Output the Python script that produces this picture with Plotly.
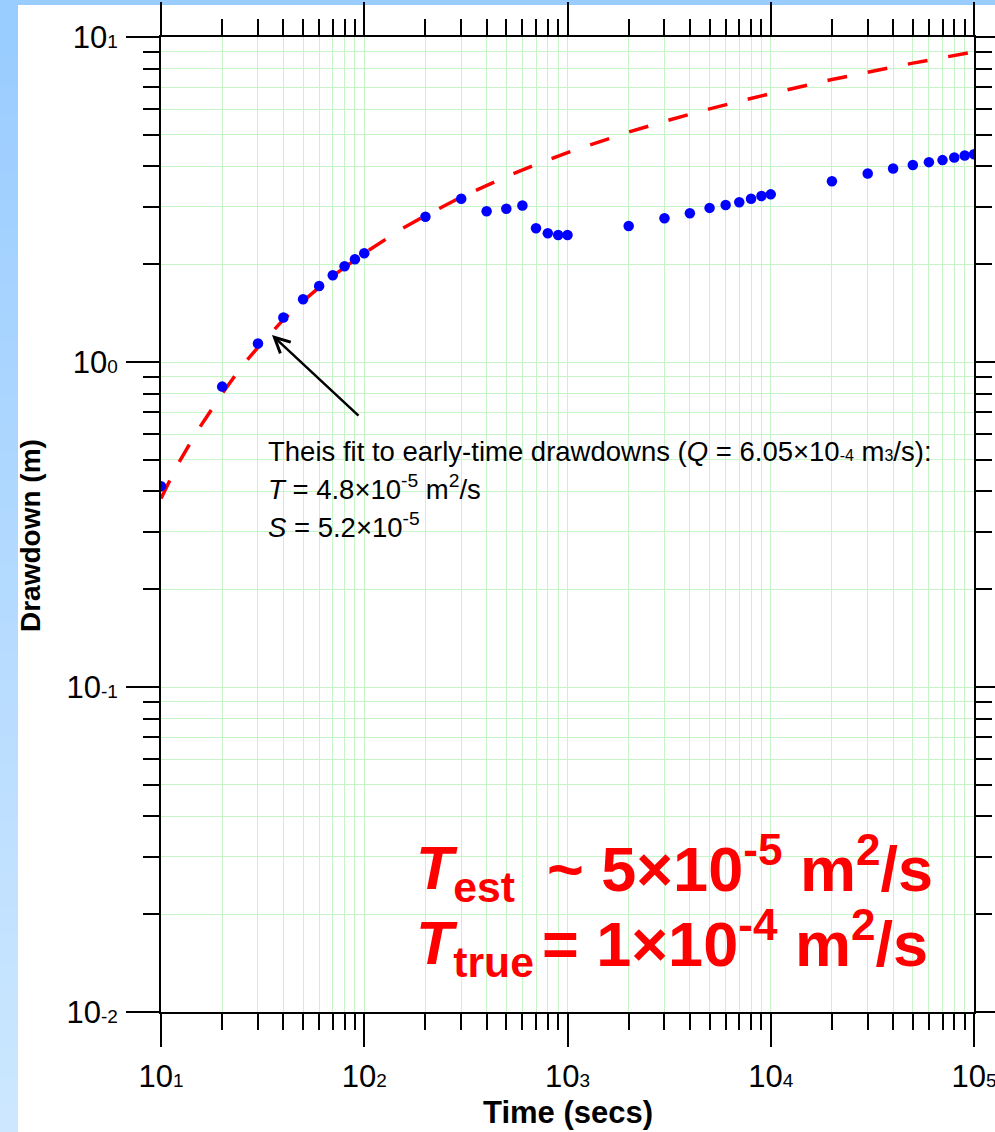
import plotly.graph_objects as go

# ---------------- data ----------------
time_obs = [10, 20, 30, 40, 50, 60, 70, 80, 90, 100,
            200, 300, 400, 500, 600, 700, 800, 900, 1000,
            2000, 3000, 4000, 5000, 6000, 7000, 8000, 9000, 10000,
            20000, 30000, 40000, 50000, 60000, 70000, 80000, 90000, 100000]
drawdown_obs = [0.415, 0.84, 1.14, 1.37, 1.56, 1.713, 1.85, 1.97, 2.07, 2.16,
                2.80, 3.18, 2.91, 2.96, 3.03, 2.58, 2.49, 2.46, 2.46,
                2.62, 2.77, 2.87, 2.98, 3.04, 3.10, 3.18, 3.24, 3.28,
                3.60, 3.80, 3.94, 4.04, 4.12, 4.18, 4.26, 4.32, 4.36]

time_fit = [10, 12, 15, 20, 25, 30, 40, 50, 70, 100, 150, 200, 300, 500, 700,
            1000, 2000, 3000, 5000, 10000, 20000, 50000, 100000]
drawdown_fit = [0.38, 0.48, 0.61, 0.80, 0.97, 1.11, 1.35, 1.54, 1.84, 2.16, 2.55,
                2.82, 3.22, 3.72, 4.05, 4.41, 5.10, 5.50, 6.01, 6.70, 7.40, 8.31, 9.00]

x_major = [10, 100, 1000, 10000, 100000]
x_major_exp = ["1", "2", "3", "4", "5"]
y_major = [0.01, 0.1, 1, 10]
y_major_exp = ["-2", "-1", "0", "1"]

# ---------------- layout geometry ----------------
W, H = 995, 1132
L, R, T, B = 161, 21, 37, 120
PW, PH = W - L - R, H - T - B

def xp(px):
    return (px - L) / PW

def yp(py):
    return (H - B - py) / PH

FONT = "Arial, 'Liberation Sans', sans-serif"

def minor_vals(lo_exp, hi_exp):
    v = []
    for e in range(lo_exp, hi_exp):
        for m in range(2, 10):
            v.append(m * 10 ** e)
    return v

def lbl(exp, size):
    return "10<span style='font-size:%dpx'>%s</span>" % (size, exp)

fig = go.Figure()

fig.add_trace(go.Scatter(
    x=time_fit, y=drawdown_fit, mode="lines",
    line=dict(color="#FF0000", width=3.5, dash="20px,21px"),
    hoverinfo="skip", showlegend=False))

fig.add_trace(go.Scatter(
    x=time_obs, y=drawdown_obs, mode="markers",
    marker=dict(color="#0000FF", size=10.5, line=dict(width=0)),
    showlegend=False))

grid_col = "#C6F5C6"
axis_common = dict(
    type="log", showline=True, linecolor="black", linewidth=2, mirror="ticks",
    ticks="outside", ticklen=33, tickwidth=2, tickcolor="black",
    showgrid=True, gridcolor=grid_col, gridwidth=1, zeroline=False,
    automargin=False, ticklabeloverflow="allow",
    tickfont=dict(family=FONT, size=31, color="black"),
)

fig.update_xaxes(
    **axis_common, range=[1, 5], tickmode="array", tickvals=x_major,
    ticktext=[lbl(e, 19) for e in x_major_exp], ticklabelstandoff=3,
    minor=dict(tickmode="array", tickvals=minor_vals(1, 5), ticks="outside",
               ticklen=16, tickwidth=2, tickcolor="black",
               showgrid=True, gridcolor=grid_col, gridwidth=1))
fig.update_yaxes(
    **axis_common, range=[-2, 1], tickmode="array", tickvals=y_major,
    ticktext=[lbl(e, 19) for e in y_major_exp], ticklabelstandoff=2,
    minor=dict(tickmode="array", tickvals=minor_vals(-2, 1), ticks="outside",
               ticklen=16, tickwidth=2, tickcolor="black",
               showgrid=True, gridcolor=grid_col, gridwidth=1))

shapes = []
# top blue strip
shapes.append(dict(type="rect", xref="paper", yref="paper", x0=xp(0), x1=xp(W),
                   y0=yp(5), y1=yp(0), fillcolor="#99CCFF", line=dict(width=0),
                   layer="below"))
# left gradient strip
n = 40
c0 = (153, 204, 255)
c1 = (204, 231, 255)
for i in range(n):
    f = i / (n - 1)
    c = tuple(round(c0[k] + (c1[k] - c0[k]) * f) for k in range(3))
    shapes.append(dict(type="rect", xref="paper", yref="paper",
                       x0=xp(0), x1=xp(18),
                       y0=yp(H * (i + 1) / n + 1), y1=yp(H * i / n),
                       fillcolor="rgb(%d,%d,%d)" % c, line=dict(width=0),
                       layer="below"))
# white box behind the red text
shapes.append(dict(type="rect", xref="paper", yref="paper", x0=xp(392), x1=xp(957),
                   y0=yp(989), y1=yp(818), fillcolor="white", line=dict(width=0),
                   layer="between"))

annotations = []
# arrow
annotations.append(dict(x=1.546, y=0.083, xref="x", yref="y", text="",
                        showarrow=True, arrowhead=5, arrowsize=1.2, arrowwidth=2.5,
                        arrowcolor="black", ax=88, ay=82, axref="pixel", ayref="pixel"))

small = 27.5
annotations.append(dict(
    xref="paper", yref="paper", x=xp(266), y=yp(451), xanchor="left", yanchor="middle",
    showarrow=False, font=dict(family=FONT, size=small, color="black"),
    text="Theis fit to early-time drawdowns (<i>Q</i> = 6.05×10<span style='font-size:16px'>-4</span> m<span style='font-size:16px'>3</span>/s):"))
annotations.append(dict(
    xref="paper", yref="paper", x=xp(266), y=yp(487), xanchor="left", yanchor="middle",
    showarrow=False, font=dict(family=FONT, size=small, color="black"),
    text="<i>T</i> = 4.8×10<sup>-5</sup> m<sup>2</sup>/s"))
annotations.append(dict(
    xref="paper", yref="paper", x=xp(266), y=yp(525), xanchor="left", yanchor="middle",
    showarrow=False, font=dict(family=FONT, size=small, color="black"),
    text="<i>S</i> = 5.2×10<sup>-5</sup>"))

red_font = dict(family=FONT, size=61, color="#FF0000", weight="bold")
red_font2 = dict(family=FONT, size=63, color="#FF0000", weight="bold")
annotations.append(dict(xref="paper", yref="paper", x=xp(414), y=yp(872),
                        xanchor="left", yanchor="middle", showarrow=False, font=red_font,
                        text="<i>T</i><sub>est</sub>"))
annotations.append(dict(xref="paper", yref="paper", x=xp(545), y=yp(864),
                        xanchor="left", yanchor="middle", showarrow=False, font=red_font2,
                        text="~ 5×10<sup>-5</sup> m<sup>2</sup>/s"))
annotations.append(dict(xref="paper", yref="paper", x=xp(414), y=yp(947),
                        xanchor="left", yanchor="middle", showarrow=False, font=red_font,
                        text="<i>T</i><sub>true</sub>"))
annotations.append(dict(xref="paper", yref="paper", x=xp(540), y=yp(939),
                        xanchor="left", yanchor="middle", showarrow=False, font=red_font2,
                        text="= 1×10<sup>-4</sup> m<sup>2</sup>/s"))

# axis titles
annotations.append(dict(xref="paper", yref="paper", x=xp(568), y=yp(1112),
                        xanchor="center", yanchor="middle", showarrow=False,
                        font=dict(family=FONT, size=31, color="black", weight="bold"),
                        text="Time (secs)"))
annotations.append(dict(xref="paper", yref="paper", x=xp(30), y=yp(536),
                        xanchor="center", yanchor="middle", showarrow=False, textangle=-90,
                        font=dict(family=FONT, size=28, color="black", weight="bold"),
                        text="Drawdown (m)"))

fig.update_layout(
    width=W, height=H, margin=dict(l=L, r=R, t=T, b=B, pad=0, autoexpand=False),
    paper_bgcolor="white", plot_bgcolor="white",
    shapes=shapes, annotations=annotations, showlegend=False,
    font=dict(family=FONT),
)

fig.write_html("out.html")
